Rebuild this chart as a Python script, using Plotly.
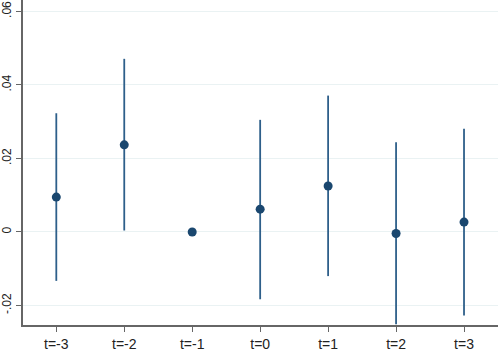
import plotly.graph_objects as go

categories = ["t=-3", "t=-2", "t=-1", "t=0", "t=1", "t=2", "t=3"]
positions = [-3, -2, -1, 0, 1, 2, 3]
coef = [0.0095, 0.0237, 0.0, 0.0062, 0.0125, -0.0004, 0.0027]
upper = [0.0323, 0.0471, 0.0, 0.0305, 0.0371, 0.0244, 0.0281]
lower = [-0.0133, 0.0004, 0.0, -0.0183, -0.0120, -0.0251, -0.0227]
ytick_vals = [-0.02, 0, 0.02, 0.04, 0.06]
ytick_text = ["-.02", "0", ".02", ".04", ".06"]

err_plus = [u - c for u, c in zip(upper, coef)]
err_minus = [c - l for c, l in zip(coef, lower)]

fig = go.Figure()
fig.add_trace(go.Scatter(
    x=positions, y=coef, mode="markers",
    marker=dict(color="#1a476f", size=9),
    error_y=dict(type="data", symmetric=False, array=err_plus, arrayminus=err_minus,
                 color="#2e5f8a", thickness=1.8, width=0),
    showlegend=False,
))

fig.update_layout(
    width=500, height=355,
    margin=dict(l=23, r=2, t=0, b=30),
    paper_bgcolor="white", plot_bgcolor="white",
    font=dict(family="Liberation Sans, Arial, sans-serif", size=13, color="#222"),
    xaxis=dict(
        range=[-3.49, 3.5], tickvals=positions, ticktext=categories,
        showgrid=False, zeroline=False, showline=True, linecolor="#666", linewidth=1.5,
        ticks="outside", ticklen=5, tickcolor="#666", tickwidth=1.2,
        tickfont=dict(size=14),
    ),
    yaxis=dict(
        range=[-0.0253, 0.0631], tickvals=ytick_vals, ticktext=ytick_text,
        tickangle=-90, showgrid=True, gridcolor="#eaf2f3", gridwidth=1.2,
        zeroline=False, showline=True, linecolor="#666", linewidth=1.5,
        ticks="outside", ticklen=5, tickcolor="#666", tickwidth=1.2,
        tickfont=dict(size=12),
    ),
)

fig.write_html("out.html")
